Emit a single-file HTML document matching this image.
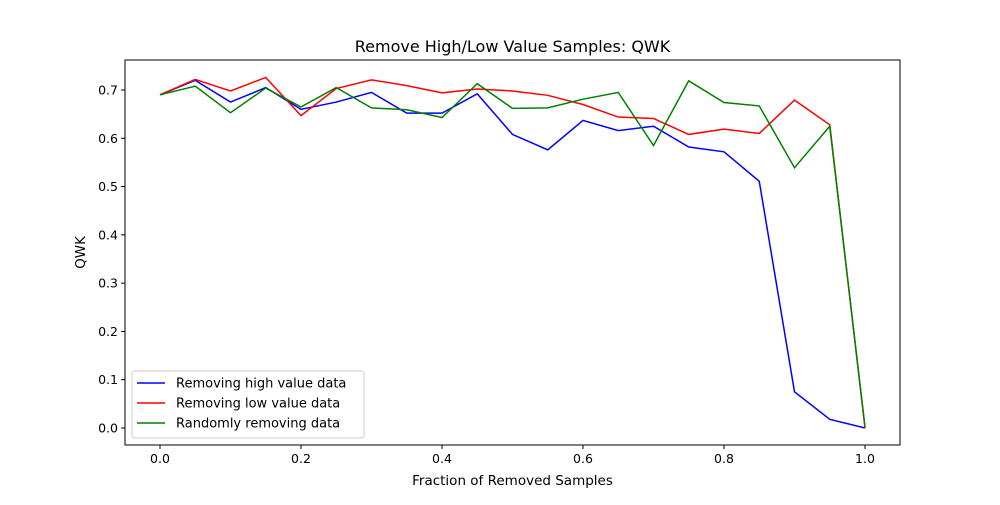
<!DOCTYPE html>
<html><head><meta charset="utf-8"><style>
html,body{margin:0;padding:0;background:#fff;}
svg text{font-family:"DejaVu Sans","Liberation Sans",sans-serif;fill:#000;}
</style></head><body>
<svg id="chart" width="1000" height="500" viewBox="0 0 1000 500" xmlns="http://www.w3.org/2000/svg">
<rect x="0" y="0" width="1000" height="500" fill="#fff"/>
<text x="512.5" y="52" font-size="16" text-anchor="middle">Remove High/Low Value Samples: QWK</text>
<g id="plot"></g>
<text x="512.5" y="485" font-size="13.5" text-anchor="middle">Fraction of Removed Samples</text>
<text transform="translate(85,252.5) rotate(-90)" font-size="13.5" text-anchor="middle">QWK</text>
</svg>
<script>
const fractions=[0,0.05,0.1,0.15,0.2,0.25,0.3,0.35,0.4,0.45,0.5,0.55,0.6,0.65,0.7,0.75,0.8,0.85,0.9,0.95,1.0];
const highValues=[0.69,0.72,0.675,0.705,0.66,0.675,0.695,0.652,0.652,0.692,0.608,0.576,0.637,0.616,0.625,0.582,0.572,0.511,0.075,0.018,0.0];
const lowValues=[0.69,0.722,0.698,0.726,0.647,0.703,0.721,0.709,0.694,0.702,0.698,0.689,0.670,0.644,0.641,0.608,0.619,0.610,0.679,0.628,0.0];
const randomValues=[0.69,0.708,0.653,0.704,0.665,0.705,0.663,0.659,0.643,0.713,0.662,0.663,0.681,0.695,0.585,0.719,0.674,0.667,0.539,0.625,0.002];
const xTicks=[0,0.2,0.4,0.6,0.8,1.0];
const xTickLabels=["0.0","0.2","0.4","0.6","0.8","1.0"];
const yTicks=[0,0.1,0.2,0.3,0.4,0.5,0.6,0.7];
const yTickLabels=["0.0","0.1","0.2","0.3","0.4","0.5","0.6","0.7"];
const seriesNames=["Removing high value data","Removing low value data","Randomly removing data"];

const NS="http://www.w3.org/2000/svg";
const L=125,R=900,T=60,B=445;
const xs=v=>160+v*705;
const ys=v=>428-v*(338/0.7);
const g=document.getElementById('plot');
function mk(tag,attrs){const e=document.createElementNS(NS,tag);for(const k in attrs)e.setAttribute(k,attrs[k]);return e;}

[[highValues,"#0000ff","series-high-value"],[lowValues,"#ff0000","series-low-value"],[randomValues,"#008000","series-random"]].forEach(([vals,col,name])=>{
  const p=mk('polyline',{points:vals.map((v,i)=>xs(fractions[i])+','+ys(v)).join(' '),fill:'none',stroke:col,'stroke-width':1.5});
  
  
  g.appendChild(p);
});
const frame=mk('rect',{x:L,y:T,width:R-L,height:B-T,fill:'none',stroke:'#000','stroke-width':1});


g.appendChild(frame);
xTicks.forEach((t,i)=>{
  const x=xs(t);
  const tk=mk('line',{x1:x,x2:x,y1:B,y2:B+4,stroke:'#000'});
  
  
  g.appendChild(tk);
  const tx=mk('text',{x:x,y:B+18,'font-size':12.5,'text-anchor':'middle'});
  tx.textContent=xTickLabels[i];
  
  
  g.appendChild(tx);
});
yTicks.forEach((t,i)=>{
  const y=ys(t);
  const tk=mk('line',{x1:L-4,x2:L,y1:y,y2:y,stroke:'#000'});
  
  
  g.appendChild(tk);
  const tx=mk('text',{x:L-7,y:y+4.5,'font-size':12.5,'text-anchor':'end'});
  tx.textContent=yTickLabels[i];
  
  
  g.appendChild(tx);
});
const lg=mk('rect',{x:132,y:371,width:232,height:67,rx:3,fill:'#fff',stroke:'#ccc','fill-opacity':0.8});


g.appendChild(lg);
["#0000ff","#ff0000","#008000"].forEach((c,i)=>{
  const y=383+i*20;
  const ln=mk('line',{x1:137,x2:165,y1:y,y2:y,stroke:c,'stroke-width':1.5});
  
  
  g.appendChild(ln);
  const tx=mk('text',{x:176,y:y+4.5,'font-size':13});
  tx.textContent=seriesNames[i];
  
  
  g.appendChild(tx);
});
</script>
</body></html>
